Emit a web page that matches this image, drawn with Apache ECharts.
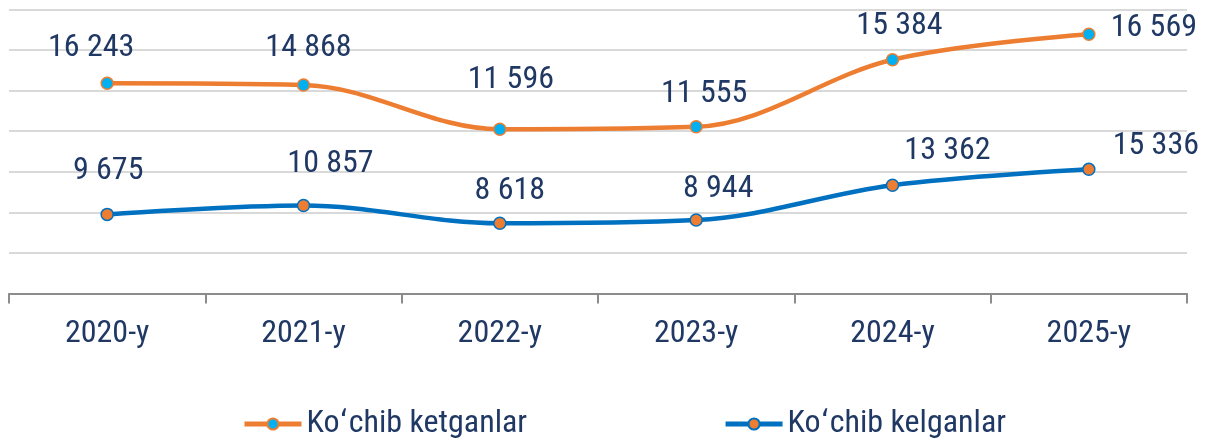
<!DOCTYPE html>
<html>
<head>
<meta charset="utf-8">
<script src="https://cdn.jsdelivr.net/npm/echarts@6/dist/echarts.min.js"></script>
<style>
  html, body { margin: 0; padding: 0; background: #fff; }
  #chart { width: 1205px; height: 438px; }
</style>
</head>
<body>
<div id="chart"></div>
<script>
// Categories
const years = ['2020-y', '2021-y', '2022-y', '2023-y', '2024-y', '2025-y'];
// Data-label values shown in the chart
const ketganlarLabels = [16243, 14868, 11596, 11555, 15384, 16569];
const kelganlarLabels = [9675, 10857, 8618, 8944, 13362, 15336];
// Plotted heights as drawn in the picture (gridline units)
const ketganlarLevels = [5.18, 5.14, 4.05, 4.11, 5.76, 6.39];
const kelganlarLevels = [1.95, 2.17, 1.73, 1.81, 2.67, 3.06];
const seriesNames = ['Koʻchib ketganlar', 'Koʻchib kelganlar'];

// Label placement (offsets from each point, px)
const ketganlarOffsets = [[-16, -35], [5, -37], [11, -49], [8, -33], [7, -34], [65, -6]];
const kelganlarOffsets = [[1, -43], [27, -41], [10, -32], [22, -31], [55, -34], [67, -23]];

const FONT = "'Roboto Condensed', 'Liberation Sans Narrow', 'Arial Narrow', 'DejaVu Sans Condensed', Roboto, sans-serif";
const TEXT = '#203864';

function fmt(v) {
  return String(v).replace(/\B(?=(\d{3})+(?!\d))/g, ' ');
}

function buildData(levels, labels, offsets) {
  return levels.map((v, i) => ({
    value: v,
    label: {
      show: true,
      position: 'inside',
      align: 'center',
      verticalAlign: 'middle',
      offset: offsets[i],
      formatter: () => fmt(labels[i]),
      fontFamily: FONT,
      fontSize: 32,
      color: TEXT
    }
  }));
}

const chart = echarts.init(document.getElementById('chart'), null, { renderer: 'canvas' });
chart.setOption({
  animation: false,
  backgroundColor: '#ffffff',
  grid: { left: 9, right: 18, top: 9.5, bottom: 144.5, containLabel: false },
  legend: {
    data: seriesNames,
    left: 242,
    top: 408,
    padding: 0,
    itemWidth: 57,
    itemHeight: 14,
    itemGap: 196,
    lineStyle: { width: 5 },
    textStyle: { fontFamily: FONT, fontSize: 32, color: TEXT }
  },
  xAxis: {
    type: 'category',
    data: years,
    boundaryGap: true,
    axisLine: { show: true, lineStyle: { color: '#8c8c8c', width: 2 } },
    axisTick: { show: true, length: 10, lineStyle: { color: '#8c8c8c', width: 2 } },
    axisLabel: { fontFamily: FONT, fontSize: 32, color: TEXT, margin: 24, lineHeight: 32 },
    splitLine: { show: false }
  },
  yAxis: {
    type: 'value',
    min: 0,
    max: 7,
    interval: 1,
    axisLine: { show: false },
    axisTick: { show: false },
    axisLabel: { show: false },
    splitLine: { show: true, lineStyle: { color: '#d9d9d9', width: 2 } }
  },
  series: [
    {
      name: seriesNames[0],
      type: 'line',
      smooth: 0.35,
      symbol: 'circle',
      symbolSize: 12,
      lineStyle: { color: '#ED7D31', width: 4.5 },
      itemStyle: { color: '#00B0F0', borderColor: '#ED7D31', borderWidth: 1.5 },
      data: buildData(ketganlarLevels, ketganlarLabels, ketganlarOffsets)
    },
    {
      name: seriesNames[1],
      type: 'line',
      smooth: 0.35,
      symbol: 'circle',
      symbolSize: 12,
      lineStyle: { color: '#0070C0', width: 4.5 },
      itemStyle: { color: '#ED7D31', borderColor: '#0070C0', borderWidth: 1.5 },
      data: buildData(kelganlarLevels, kelganlarLabels, kelganlarOffsets)
    }
  ]
});
</script>
</body>
</html>
